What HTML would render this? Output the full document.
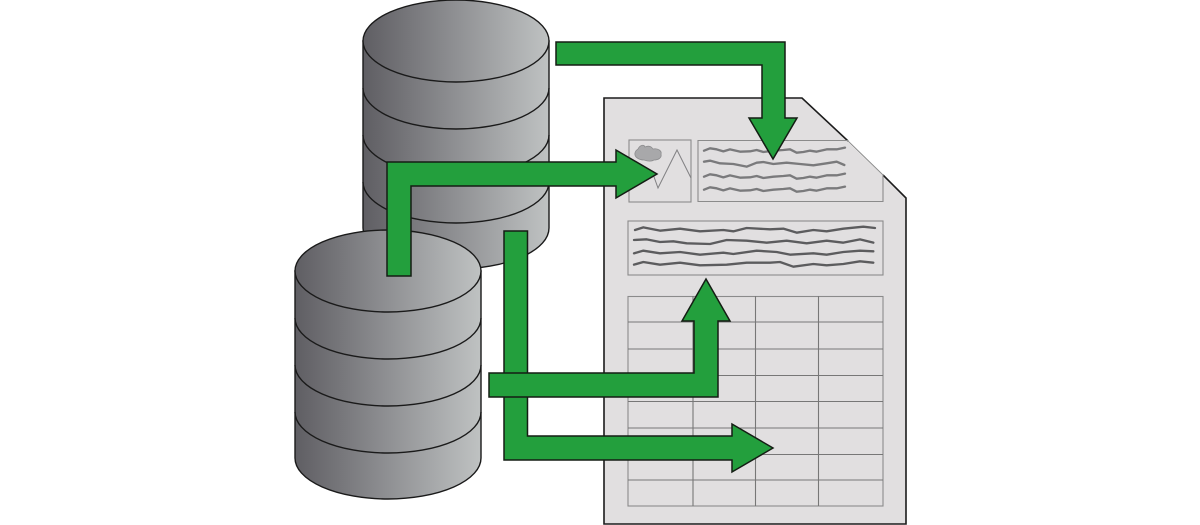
<!DOCTYPE html>
<html><head><meta charset="utf-8"><style>html,body{margin:0;padding:0;background:#fff}svg{display:block}</style></head><body>
<svg xmlns="http://www.w3.org/2000/svg" width="1200" height="525" viewBox="0 0 1200 525">
<defs>
<linearGradient id="g"><stop offset="0" stop-color="#5f5e63"/><stop offset="0.5" stop-color="#8f9093"/><stop offset="1" stop-color="#bfc2c2"/></linearGradient>
<g id="cyl" stroke="#1a1a1a" stroke-width="1.4" fill="url(#g)">
<path d="M0 41V228A93 41 0 0 0 186 228V41Z"/>
<path d="M0 88A93 41 0 0 0 186 88M0 135A93 41 0 0 0 186 135M0 182A93 41 0 0 0 186 182" fill="none"/>
<ellipse cx="93" cy="41" rx="93" ry="41"/>
</g>
<polyline id="a1" points="312,182 330,175 350,178 370,184 390,178 420,185 450,184 470,180 490,186 520,182 550,180 570,178 590,188 610,186 630,182 650,185 680,178 710,178 735,173"/>
<polyline id="a2" points="312,215 330,212 360,220 400,222 440,230 470,218 490,216 520,222 560,218 600,222 640,226 680,220 710,215 733,225"/>
</defs>
<use href="#cyl" x="363" y="0"/>
<use href="#cyl" x="295" y="230"/>
<path d="M604 98H802L906 198V524H604Z" fill="#e1dfe0"/>
<path d="M848 141L802 98H604V524H906V198L883 175" fill="none" stroke="#1c1c1c" stroke-width="1.6"/>
<path d="M848 141L883 175" stroke="#8c8c8c" stroke-width="1" fill="none"/>
<g fill="none" stroke="#8b8b8b" stroke-width="1.1">
<rect x="629" y="140" width="62" height="62"/>
<path d="M848 140.500H698V201.500H883V175"/>
<rect x="628" y="221" width="255" height="54"/>
<rect x="628" y="296.500" width="255" height="209.500"/>
<path stroke="#777" d="M628 322H883M628 349H883M628 375.500H883M628 401.500H883M628 428H883M628 454.500H883M628 480H883M693 296V506M755.500 296V506M818.500 296V506"/>
</g>
<path d="M653 174L658 188 677 150 691 178" fill="none" stroke="#808082" stroke-width="1"/>
<path d="M638 149C640 145 644 144 645 147 649 145 652 147 653 149 658 148 662 151 661 154 662 158 658 160 654 160 651 162 647 161 644 160 639 160 634 157 635 153 635 151 637 150 638 149Z" fill="#a8a8aa" stroke="#8c8c8e" stroke-width="0.8"/>
<g transform="translate(600 90) scale(.33333)" fill="none" stroke-linejoin="round" stroke-linecap="round" stroke-width="7">
<g stroke="#7a7a7c">
<use href="#a1"/><use href="#a2"/><use href="#a1" y="78"/><use href="#a1" y="117"/>
</g>
<g stroke="#5c5c5e">
<polyline points="105,420 130,412 180,422 240,416 300,424 370,420 400,424 440,414 510,418 550,416 590,428 640,420 680,424 730,416 790,410 825,414"/>
<polyline points="102,450 140,448 180,456 220,454 260,460 330,462 380,450 440,452 500,458 560,452 620,460 680,452 730,458 780,448 820,458"/>
<polyline points="102,490 130,482 180,490 240,486 300,494 370,488 400,492 470,482 530,486 570,494 640,490 680,494 730,486 780,482 820,484"/>
<polyline points="102,524 130,516 180,524 240,518 300,526 380,524 440,518 510,518 540,516 580,530 640,522 680,526 730,522 780,514 820,518"/>
</g>
</g>
<g fill="#239f3d" stroke="#141d14" stroke-width="1.5" stroke-linejoin="miter">
<path d="M556 42H785V118H797L773 159 749 118H762V65H556Z"/>
<path d="M387 276V162H616V150L657 174 616 198V186H411V276Z"/>
<path d="M504 231H527.500V436H732V424L773 448 732 472V460H504Z"/>
<path d="M489 373H694V321H682L706 279 730 321H718V397H489Z"/>
</g>
</svg>
</body></html>
